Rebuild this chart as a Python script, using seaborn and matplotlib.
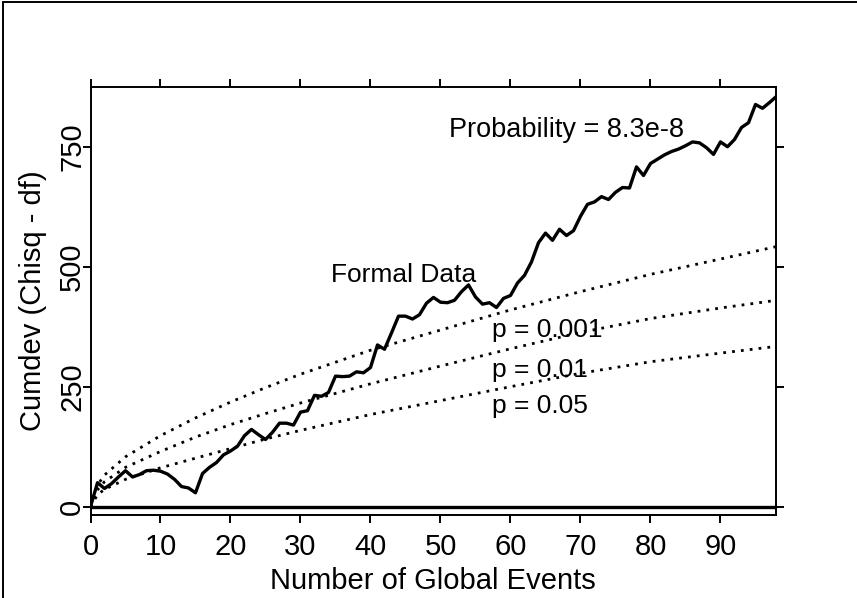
import matplotlib
matplotlib.use("Agg")
import matplotlib.pyplot as plt
import seaborn as sns
from matplotlib.lines import Line2D

# cumulative deviation of the formal data, one value per global event
events = list(range(0, 99))
cumdev = [0, 50, 38, 48, 62, 75, 62, 67, 75, 76,
          74, 68, 57, 42, 39, 29, 69, 82, 92, 108,
          116, 126, 148, 161, 150, 140, 155, 174, 174, 170,
          197, 200, 232, 230, 238, 272, 271, 272, 281, 279,
          290, 337, 328, 362, 397, 397, 391, 400, 424, 436,
          426, 425, 430, 448, 462, 437, 422, 425, 415, 434,
          440, 466, 482, 510, 550, 570, 555, 578, 565, 575,
          605, 630, 635, 646, 640, 655, 665, 664, 708, 690,
          715, 724, 733, 740, 745, 752, 760, 758, 748, 734,
          760, 750, 765, 790, 800, 838, 830, 842, 855]

# significance envelopes
env_x = [0, 1, 2, 5, 10, 15, 20, 25, 30, 40, 50, 60, 70, 80, 90, 98]
p_001 = [0, 45, 66, 104, 148, 185, 218, 248, 276, 326, 368, 410, 448, 484, 516, 542]
p_01 = [0, 35, 52, 82, 115, 145, 171, 194, 216, 256, 293, 329, 363, 392, 414, 430]
p_05 = [0, 25, 36, 57, 81, 101, 121, 141, 159, 192, 221, 250, 278, 302, 320, 334]

x_ticks = [0, 10, 20, 30, 40, 50, 60, 70, 80, 90]
y_ticks = [0, 250, 500, 750]

sns.set_theme(style="white")
plt.rcParams["font.family"] = ["Liberation Sans", "DejaVu Sans"]
plt.rcParams["text.color"] = "black"
plt.rcParams["axes.labelcolor"] = "black"

fig = plt.figure(figsize=(8.57, 5.98), dpi=100)
ax = fig.add_axes([90.5 / 857, 1 - 515 / 598, (776 - 90.5) / 857, (515 - 87) / 598])

dots = (0, (1, 2.2))
for env in [p_001, p_01, p_05]:
    sns.lineplot(x=env_x, y=env, ax=ax, color="black", linewidth=2.0,
                 linestyle=dots, dash_capstyle="butt")

sns.lineplot(x=events, y=cumdev, ax=ax, color="black", linewidth=2.4)

ax.axhline(0, color="black", linewidth=2.4, zorder=1)

ax.set_xlim(0, 97.93)
ax.set_ylim(-17.3, 874.4)
ax.set_xticks(x_ticks)
ax.set_yticks(y_ticks)

for side in ["left", "right", "top", "bottom"]:
    ax.spines[side].set_visible(True)
    ax.spines[side].set_color("black")
    ax.spines[side].set_linewidth(1.4)

ax.tick_params(axis="both", which="both", direction="out", length=6.1, width=1.4,
               color="black", labelsize=21, labelcolor="black")
ax.tick_params(axis="x", top=True, bottom=True, labeltop=False, pad=7)
ax.tick_params(axis="y", left=True, right=True, labelright=False, pad=-3)
for lab in ax.get_yticklabels():
    lab.set_rotation(90)
    lab.set_va("center")

ax.set_xlabel("Number of Global Events", fontsize=21, labelpad=4)
ax.set_ylabel("Cumdev (Chisq - df)", fontsize=21, labelpad=8)

ax.text(68, 771, "Probability = 8.3e-8", fontsize=19.5, ha="center", va="baseline")
ax.text(44.8, 468, "Formal Data", fontsize=19, ha="center", va="baseline")
ax.text(57.3, 354, "p = 0.001", fontsize=19, ha="left", va="baseline")
ax.text(57.3, 271, "p = 0.01", fontsize=19, ha="left", va="baseline")
ax.text(57.3, 196, "p = 0.05", fontsize=19, ha="left", va="baseline")

# scanned page frame (top and left edge)
fig.add_artist(Line2D([0.004, 0.004], [0, 0.997], transform=fig.transFigure,
                      color="black", linewidth=1.4))
fig.add_artist(Line2D([0.004, 1], [0.997, 0.997], transform=fig.transFigure,
                      color="black", linewidth=1.4))

fig.savefig("out.png", dpi=100, facecolor="white")
